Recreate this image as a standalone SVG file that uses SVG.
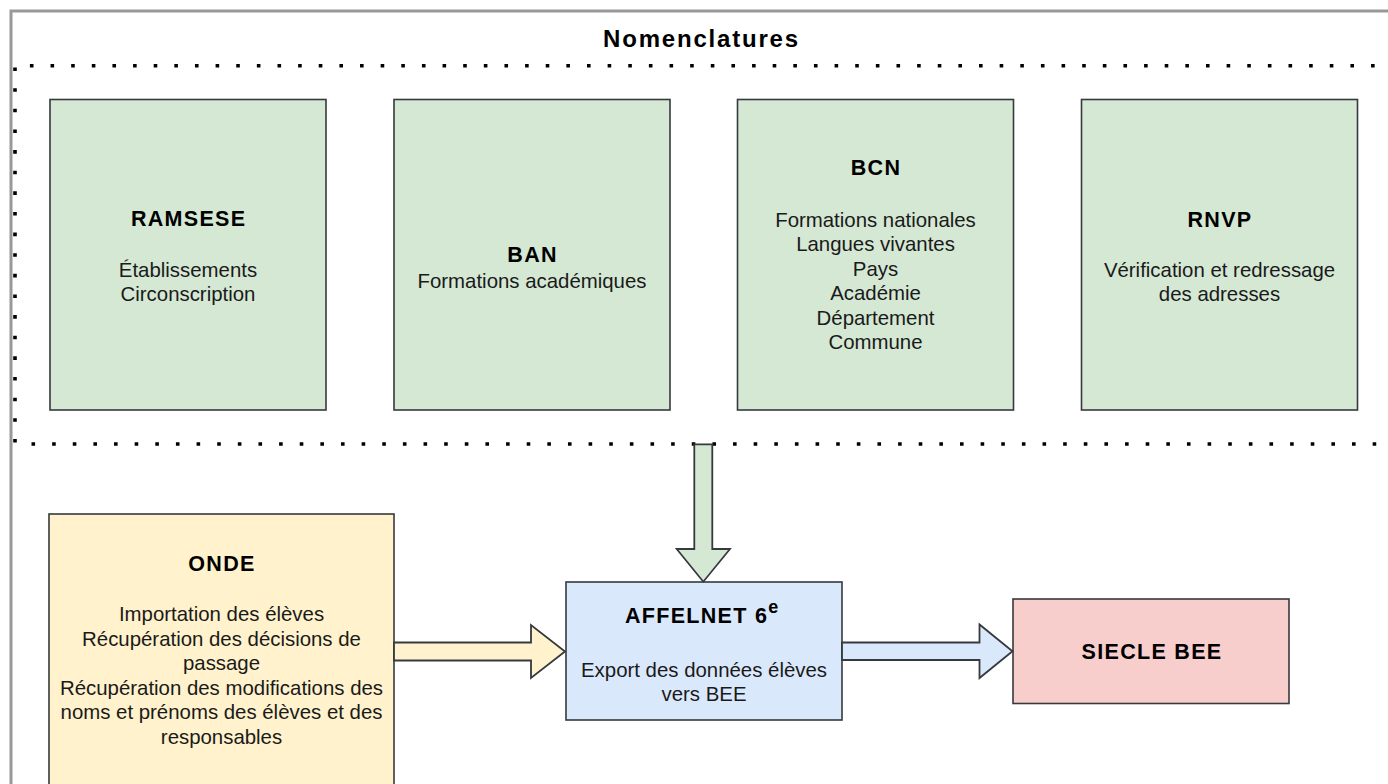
<svg xmlns="http://www.w3.org/2000/svg" width="1388" height="784" viewBox="0 0 1388 784">
<style>
.box{stroke:#36393d;stroke-width:1.6}
.g{fill:#d5e8d4}.y{fill:#fff2cc}.b{fill:#dae8fc}.r{fill:#f8cecc}
.dot{fill:none;stroke:#000;stroke-width:3.6;stroke-dasharray:3.6 17.033}
.t{font-family:"Liberation Sans",Arial,Helvetica,sans-serif;font-weight:bold;font-size:21.5px;letter-spacing:1.3px;fill:#000;text-anchor:middle}
.s{font-family:"Liberation Sans",Arial,Helvetica,sans-serif;font-size:20.4px;fill:#1a1a1a;text-anchor:middle}
.arrow{stroke:#36393d;stroke-width:1.8;stroke-linejoin:miter}
</style>
<rect x="0" y="0" width="1388" height="784" fill="#ffffff"/>
<path d="M11,784 V11 H1388" fill="none" stroke="#999999" stroke-width="3"/>
<g id="nomenclatures">
<text x="701.5" y="46.5" style="font-family:'Liberation Sans',Arial,Helvetica,sans-serif;font-weight:bold;font-size:24px;letter-spacing:1.8px;fill:#000;text-anchor:middle">Nomenclatures</text>
<path class="dot" d="M29.9,65.7 H1388"/>
<path class="dot" d="M31.5,444 H1388"/>
<path class="dot" d="M15,67.5 V444"/>
</g>
<g id="ramsese">
<rect class="box g" x="50" y="99.5" width="276" height="310.5"/>
<text class="t" x="188.6" y="226">RAMSESE</text>
<text class="s" x="188" y="277">Établissements</text>
<text class="s" x="188" y="301">Circonscription</text>
</g>
<g id="ban">
<rect class="box g" x="394" y="99.5" width="276" height="310.5"/>
<text class="t" x="532.6" y="261.5">BAN</text>
<text class="s" x="532" y="288">Formations académiques</text>
</g>
<g id="bcn">
<rect class="box g" x="737.5" y="99.5" width="276" height="310.5"/>
<text class="t" x="876" y="175">BCN</text>
<text class="s" x="875.5" y="226.5">Formations nationales</text>
<text class="s" x="875.5" y="251">Langues vivantes</text>
<text class="s" x="875.5" y="275.5">Pays</text>
<text class="s" x="875.5" y="300">Académie</text>
<text class="s" x="875.5" y="324.5">Département</text>
<text class="s" x="875.5" y="349">Commune</text>
</g>
<g id="rnvp">
<rect class="box g" x="1081.5" y="99.5" width="276" height="310.5"/>
<text class="t" x="1220" y="226.5">RNVP</text>
<text class="s" x="1219.5" y="277">Vérification et redressage</text>
<text class="s" x="1219.5" y="301">des adresses</text>
</g>
<g id="onde">
<rect class="box y" x="49" y="514" width="345" height="290"/>
<text class="t" x="222" y="571">ONDE</text>
<text class="s" x="221.5" y="621">Importation des élèves</text>
<text class="s" x="221.5" y="645.5">Récupération des décisions de</text>
<text class="s" x="221.5" y="670">passage</text>
<text class="s" x="221.5" y="694.5">Récupération des modifications des</text>
<text class="s" x="221.5" y="719">noms et prénoms des élèves et des</text>
<text class="s" x="221.5" y="743.5">responsables</text>
</g>
<g id="affelnet">
<rect class="box b" x="566" y="582" width="276" height="138"/>
<text class="t" x="625" y="622.5" style="text-anchor:start">AFFELNET 6<tspan font-size="18" dy="-10">e</tspan></text>
<text class="s" x="704" y="676.5">Export des données élèves</text>
<text class="s" x="704" y="700.5">vers BEE</text>
</g>
<g id="siecle">
<rect class="box r" x="1013" y="599" width="276" height="104.5"/>
<text class="t" x="1152" y="658.5">SIECLE BEE</text>
</g>
<g id="connectors">
<polygon class="arrow g" points="694.3,444.3 712.3,444.3 712.3,549 730,549 703.3,581.7 676.7,549 694.3,549"/>
<polygon class="arrow y" points="394,642.5 531,642.5 531,625 565,651.5 531,678 531,660.5 394,660.5"/>
<polygon class="arrow b" points="842,642.5 979.5,642.5 979.5,624.5 1012.5,651.3 979.5,678 979.5,660 842,660"/>
</g>
</svg>
